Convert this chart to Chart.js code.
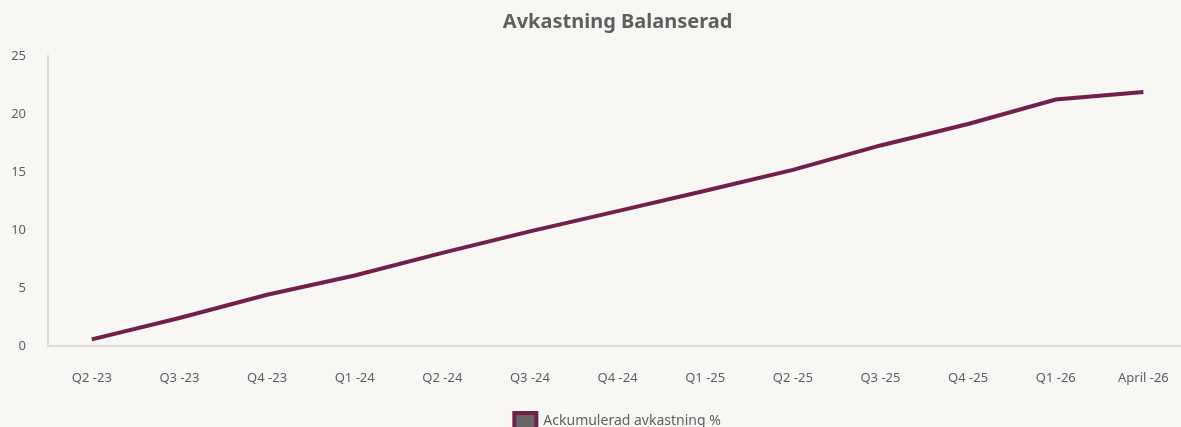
<!DOCTYPE html>
<html><head><meta charset="utf-8">
<script src="https://cdn.jsdelivr.net/npm/chart.js@4/dist/chart.umd.min.js"></script>
<style>
html,body{margin:0;padding:0;background:#f8f7f4;overflow:hidden;width:1181px;height:427px}
#wrap{position:absolute;left:0;top:0;width:1193px;height:439px}
</style></head><body>
<div id="wrap"><canvas id="c"></canvas></div>
<script>
const chartTitle = 'Avkastning Balanserad';
const seriesName = 'Ackumulerad avkastning %';
const categories = ['Q2 -23','Q3 -23','Q4 -23','Q1 -24','Q2 -24','Q3 -24','Q4 -24','Q1 -25','Q2 -25','Q3 -25','Q4 -25','Q1 -26','April -26'];
const cumulativeReturn = [0.6, 2.45, 4.45, 6.1, 8.05, 9.9, 11.65, 13.4, 15.2, 17.3, 19.15, 21.25, 21.9];
const yMin = 0, yMax = 25, yStep = 5;

const FONT = '"Noto Sans", "Open Sans", sans-serif';
const TXT = '#5f5f5f';
const LINE = '#731f4c';

new Chart(document.getElementById('c'), {
  type: 'line',
  data: {
    labels: categories,
    datasets: [{
      label: seriesName,
      data: cumulativeReturn,
      borderColor: LINE,
      backgroundColor: '#666666',
      borderWidth: 4,
      pointRadius: 0,
      tension: 0
    }]
  },
  options: {
    responsive: true,
    maintainAspectRatio: false,
    animation: false,
    layout: { padding: { left: 0, right: 0, top: 0, bottom: 0 } },
    plugins: {
      title: {
        display: true,
        text: chartTitle,
        fullSize: false,
        color: TXT,
        font: { family: FONT, size: 20, weight: 'bold' },
        padding: { top: 10, bottom: 22 }
      },
      legend: {
        position: 'bottom',
        fullSize: false,
        labels: {
          color: TXT,
          font: { family: FONT, size: 14 },
          boxWidth: 22,
          boxHeight: 16,
          padding: 3
        }
      },
      tooltip: { enabled: false }
    },
    scales: {
      x: {
        offset: true,
        grid: { display: false, drawTicks: false },
        border: { display: true, color: '#dcdbd8', width: 2 },
        ticks: { color: TXT, font: { family: FONT, size: 13 }, padding: 24, maxRotation: 0, autoSkip: false }
      },
      y: {
        min: yMin, max: yMax,
        grid: { display: false, drawTicks: false },
        border: { display: true, color: '#dcdbd8', width: 2 },
        ticks: { stepSize: yStep, color: TXT, font: { family: FONT, size: 13 }, padding: 22 },
        afterFit: s => { s.width = 48; }
      }
    }
  }
});
</script>
</body></html>
